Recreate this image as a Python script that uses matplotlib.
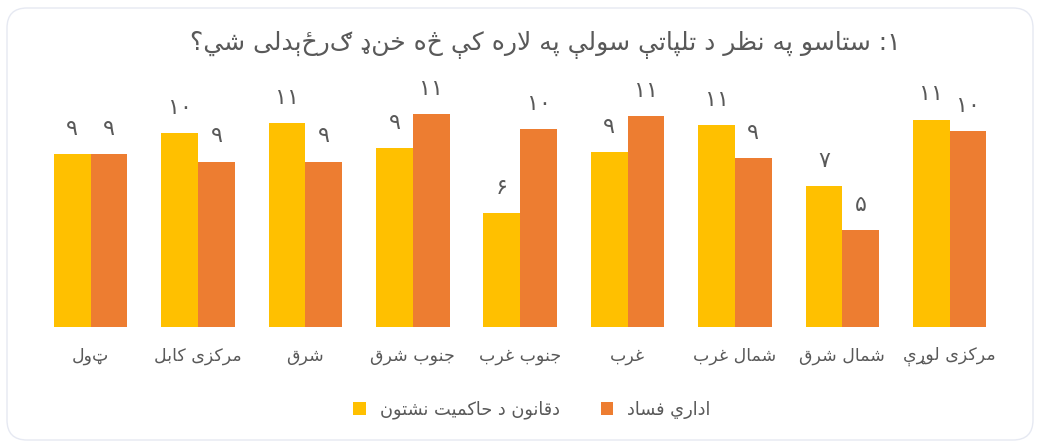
import re
import matplotlib
matplotlib.use("Agg")
import matplotlib.pyplot as plt
from matplotlib.patches import FancyBboxPatch, Patch
from matplotlib import font_manager
from matplotlib.ft2font import FT2Font
from matplotlib.transforms import blended_transform_factory
import numpy as np

# ---------------- data ----------------
categories = ["ټول", "مرکزی کابل", "شرق", "جنوب شرق", "جنوب غرب",
              "غرب", "شمال غرب", "شمال شرق", "مرکزی لوړې"]
series_names = ["دقانون د حاکمیت نشتون", "اداري فساد"]
rule_of_law_absence = [9.1, 10.2, 10.7, 9.4, 6.0, 9.2, 10.6, 7.4, 10.9]
admin_corruption = [9.1, 8.7, 8.7, 11.2, 10.4, 11.1, 8.9, 5.1, 10.3]
title_text = "۱: ستاسو په نظر د تلپاتې سولې په لاره کې څه خنډ ګرځېدلی شي؟"

colors = ["#FFC000", "#ED7D31"]
text_color = "#595959"

# ---------------- minimal Arabic shaping (matplotlib has no shaping) ----------------
FONT = "DejaVu Sans"
_cmap = FT2Font(font_manager.findfont(FONT)).get_charmap()

_four = {  # dual joining: iso, fin, ini, med
    "ئ": 0xFE89, "ب": 0xFE8F, "ت": 0xFE95, "ث": 0xFE99, "ج": 0xFE9D, "ح": 0xFEA1,
    "خ": 0xFEA5, "س": 0xFEB1, "ش": 0xFEB5, "ص": 0xFEB9, "ض": 0xFEBD, "ط": 0xFEC1,
    "ظ": 0xFEC5, "ع": 0xFEC9, "غ": 0xFECD, "ف": 0xFED1, "ق": 0xFED5, "ك": 0xFED9,
    "ل": 0xFEDD, "م": 0xFEE1, "ن": 0xFEE5, "ه": 0xFEE9, "ي": 0xFEF1,
    "پ": 0xFB56, "چ": 0xFB7A, "ک": 0xFB8E, "گ": 0xFB92, "ی": 0xFBFC, "ې": 0xFBE4,
}
_two = {  # right joining: iso, fin
    "آ": 0xFE81, "أ": 0xFE83, "ؤ": 0xFE85, "إ": 0xFE87, "ا": 0xFE8D, "ة": 0xFE93,
    "د": 0xFEA9, "ذ": 0xFEAB, "ر": 0xFEAD, "ز": 0xFEAF, "و": 0xFEED, "ژ": 0xFB8A,
}
FORMS = {}
for ch, b in _four.items():
    forms = [chr(b + k) for k in range(4)]
    if all(ord(f) in _cmap for f in forms):
        FORMS[ch] = ("D", forms)
for ch, b in _two.items():
    forms = [chr(b + k) for k in range(2)]
    if all(ord(f) in _cmap for f in forms):
        FORMS[ch] = ("R", forms)


def _jt(c):
    return FORMS[c][0] if c in FORMS else "U"


def shape(s):
    out = []
    i = 0
    n = len(s)
    while i < n:
        c = s[i]
        prev = s[i - 1] if i > 0 else None
        cp = prev is not None and _jt(prev) == "D" and _jt(c) in ("D", "R")
        # lam-alef ligature
        if c == "ل" and i + 1 < n and s[i + 1] == "ا" and ord("\uFEFB") in _cmap:
            out.append("\uFEFC" if cp else "\uFEFB")
            i += 2
            continue
        if c not in FORMS:
            out.append(c)
            i += 1
            continue
        nxt = s[i + 1] if i + 1 < n else None
        cn = _jt(c) == "D" and nxt is not None and _jt(nxt) in ("D", "R")
        t, forms = FORMS[c]
        if t == "R":
            out.append(forms[1] if cp else forms[0])
        else:
            if cp and cn:
                out.append(forms[3])
            elif cp:
                out.append(forms[1])
            elif cn:
                out.append(forms[2])
            else:
                out.append(forms[0])
        i += 1
    return "".join(out)


_digit = r"0-9\u06F0-\u06F9\u0660-\u0669"


def rtl(s):
    shaped = shape(s)
    runs = re.findall(r"[%s]+|[^%s]+" % (_digit, _digit), shaped)
    return "".join(r if re.match(r"[%s]" % _digit, r) else r[::-1] for r in reversed(runs))


def fa_digits(v):
    return "".join(chr(0x06F0 + int(d)) for d in str(int(round(v))))


# ---------------- figure ----------------
plt.rcParams["font.family"] = [FONT]
W, H = 1039, 444
fig = plt.figure(figsize=(W / 100, H / 100), dpi=100)
fig.patch.set_facecolor("white")

frame = FancyBboxPatch((7 / 100, 4 / 100), (1033 - 7) / 100, (440 - 8) / 100,
                       boxstyle="round,pad=0,rounding_size=0.2",
                       transform=fig.dpi_scale_trans, facecolor="white",
                       edgecolor="#E6E9F2", linewidth=1.0, zorder=-5)
fig.patches.append(frame)

base_px = 327.3
px_per_unit = 19.05
ymax = 12
ax = fig.add_axes([37 / W, (H - base_px) / H, 966.4 / W, ymax * px_per_unit / H])
ax.set_zorder(2)
ax.set_facecolor("none")
x = np.arange(len(categories))
bw = 0.342
series = [rule_of_law_absence, admin_corruption]
for k, (vals, col) in enumerate(zip(series, colors)):
    xs = x + (k - 0.5) * bw
    ax.bar(xs, vals, width=bw, color=col, edgecolor="none", zorder=2)
    for xi, v in zip(xs, vals):
        ax.annotate(fa_digits(v), (xi, v), xytext=(0, 13.8), textcoords="offset points",
                    ha="center", va="baseline", fontsize=16, color=text_color,
                    annotation_clip=False)

ax.set_xlim(-0.5, len(categories) - 0.5)
ax.set_ylim(0, ymax)
for sp in ax.spines.values():
    sp.set_visible(False)
ax.set_xticks([])
ax.set_yticks([])

tr = blended_transform_factory(ax.transData, fig.transFigure)
for xi, c in zip(x, categories):
    ax.text(xi, 1 - 356 / H, rtl(c), transform=tr, ha="center", va="center",
            fontsize=12.5, color=text_color)

fig.text(545 / W, 1 - 45 / H, rtl(title_text), ha="center", va="center",
         fontsize=18, color=text_color)

handles = [Patch(facecolor=c, edgecolor="none") for c in colors]
fig.legend(handles, [rtl(s) for s in series_names], loc="center",
           bbox_to_anchor=(532 / W, 1 - 410 / H), ncol=2, frameon=False,
           handlelength=0.7, handleheight=0.7, handletextpad=0.8,
           columnspacing=2.3, fontsize=12.8, labelcolor=text_color)

fig.savefig("out.png", dpi=100)
